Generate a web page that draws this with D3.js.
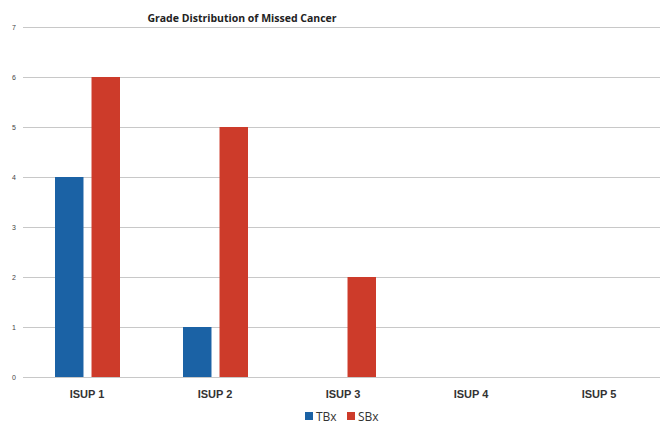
<!DOCTYPE html>
<html>
<head>
<meta charset="utf-8">
<script src="https://cdn.jsdelivr.net/npm/d3@7"></script>
<style>
  body { margin: 0; background: #fff; }
  svg { display: block; font-family: "Open Sans", "Noto Sans", sans-serif; }
</style>
</head>
<body>
<svg id="chart" width="660" height="423"></svg>
<script>
// Missed cancers by ISUP grade group, targeted vs systematic biopsy
const categories = ["ISUP 1", "ISUP 2", "ISUP 3", "ISUP 4", "ISUP 5"];
const seriesNames = ["TBx", "SBx"];
const tbxValues = [4, 1, 0, 0, 0];
const sbxValues = [6, 5, 2, 0, 0];
const yTicks = [0, 1, 2, 3, 4, 5, 6, 7];
const colors = ["#1b62a5", "#cd3b2a"];

const svg = d3.select("#chart");
const margin = { left: 23, right: -3, top: 27, bottom: 46 };
const width = 660, height = 423;

const x = d3.scaleBand().domain(categories)
  .range([margin.left, width - margin.right]).paddingInner(0).paddingOuter(0);
const xs = d3.scaleBand().domain(seriesNames)
  .range([32, 97]).paddingInner(0.22);
const y = d3.scaleLinear().domain([0, 7]).range([height - margin.bottom, margin.top]);

// horizontal gridlines
svg.append("g")
  .selectAll("line").data(yTicks).join("line")
  .attr("x1", margin.left).attr("x2", width)
  .attr("y1", d => Math.round(y(d)) + 0.5).attr("y2", d => Math.round(y(d)) + 0.5)
  .attr("stroke", "#c8c8c8").attr("stroke-width", 1);

// y axis labels
const yAxis = d3.axisLeft(y).tickValues(yTicks).tickFormat(d3.format("d")).tickSize(0).tickPadding(0);
const yg = svg.append("g").attr("transform", "translate(14,0)").call(yAxis);
yg.select(".domain").remove();
yg.selectAll("text").attr("font-size", 7).attr("fill", "#444").attr("text-anchor", "middle");

// bars
const rows = categories.map((c, i) => ({ cat: c, vals: [tbxValues[i], sbxValues[i]] }));
const groups = svg.append("g").selectAll("g").data(rows).join("g")
  .attr("transform", d => `translate(${x(d.cat)},0)`);
groups.selectAll("rect")
  .data(d => d.vals.map((v, j) => ({ key: seriesNames[j], v, j })).filter(e => e.v > 0))
  .join("rect")
  .attr("x", e => xs(e.key))
  .attr("width", xs.bandwidth())
  .attr("y", e => y(e.v))
  .attr("height", e => y(0) - y(e.v))
  .attr("fill", e => colors[e.j]);

// category labels
const xAxis = d3.axisBottom(x).tickSize(0).tickPadding(0);
const xg = svg.append("g").attr("transform", `translate(0,${y(0) + 21})`).call(xAxis);
xg.select(".domain").remove();
xg.selectAll("text").attr("font-size", 11).attr("font-weight", "bold").attr("fill", "#333").attr("dy", 0);

// title
svg.append("text").attr("x", 242).attr("y", 22).attr("text-anchor", "middle")
  .attr("font-size", 10.5).attr("font-weight", "bold").attr("fill", "#222")
  .text("Grade Distribution of Missed Cancer");

// legend
const legend = svg.append("g").attr("transform", "translate(305,416)");
const li = legend.selectAll("g").data(seriesNames).join("g")
  .attr("transform", (d, i) => `translate(${i * 42},0)`);
li.append("rect").attr("width", 8).attr("height", 8).attr("y", -4)
  .attr("fill", (d, i) => colors[i]);
li.append("text").attr("x", 11).attr("y", 4.5).attr("font-size", 12).attr("fill", "#333").text(d => d);
</script>
</body>
</html>
